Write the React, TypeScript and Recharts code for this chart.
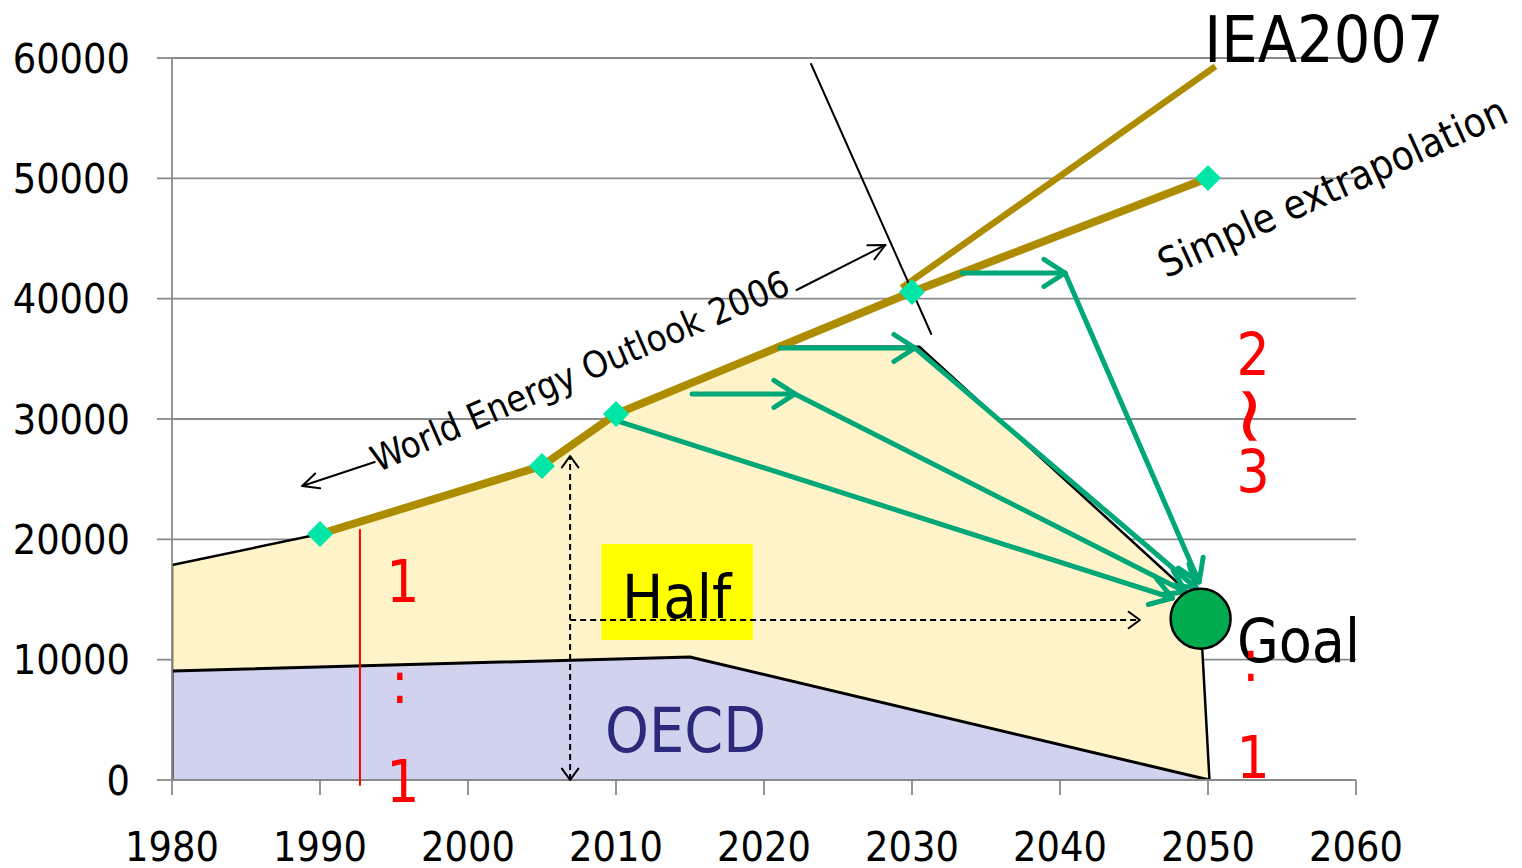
import React from 'react';
import {
  ComposedChart,
  Area,
  Line,
  XAxis,
  YAxis,
  CartesianGrid,
  ReferenceLine,
  ReferenceDot,
  ReferenceArea,
} from 'recharts';

const FONT = "'DejaVu Sans Condensed', 'DejaVu Sans', sans-serif";

// Axis ticks
const yearTicks = [1980, 1990, 2000, 2010, 2020, 2030, 2040, 2050, 2060];
const valueTicks = [0, 10000, 20000, 30000, 40000, 50000, 60000];

// World total (upper filled region)
const worldTotal = [
  { year: 1980, value: 0 },
  { year: 1980, value: 17870 },
  { year: 1990, value: 20440 },
  { year: 2005, value: 26100 },
  { year: 2010, value: 30420 },
  { year: 2021, value: 36000 },
  { year: 2030.5, value: 36000 },
  { year: 2048.3, value: 16000 },
  { year: 2049.5, value: 13400 },
  { year: 2050.1, value: 0 },
];

// OECD share (lower filled region)
const oecdShare = [
  { year: 1980, value: 0 },
  { year: 1980, value: 9060 },
  { year: 2015, value: 10220 },
  { year: 2050.1, value: 0 },
];

// World Energy Outlook 2006 trend and its simple extrapolation
const weo2006 = [
  { year: 1990, value: 20440 },
  { year: 2005, value: 26100 },
  { year: 2010, value: 30420 },
  { year: 2030, value: 40550 },
  { year: 2050, value: 50030 },
];

// IEA 2007 projection
const iea2007 = [
  { year: 2029.3, value: 40890 },
  { year: 2050.5, value: 59300 },
];

// Reduction pathways towards the 2050 goal: each list of points is drawn segment by segment
const pathways: [number, number][][] = [
  [[2010.07, 29835], [2047.6, 15125]],
  [[2015.14, 32080], [2022.09, 32080], [2048.5, 15624]],
  [[2021.08, 35900], [2030.2, 35900], [2049.2, 15956]],
  [[2033.38, 42134], [2040.34, 42134], [2049.4, 16455]],
];

const goal = { year: 2049.5, value: 13400 };

// Dashed "half" indicators
const halfVertical: [number, number][] = [[2006.9, 0], [2006.9, 26925]];
const halfHorizontal: [number, number][] = [[2006.9, 13297], [2045.4, 13297]];
const halfBox = { x1: 2009.0, x2: 2019.26, y1: 11635, y2: 19612 };

// Thin annotation lines
const divider: [number, number][] = [[2023.18, 59500], [2031.3, 37065]];
const weoArrowLeft: [number, number][] = [[1993.7, 26430], [1988.8, 24430]];
const weoArrowRight: [number, number][] = [[2022.2, 40720], [2028.2, 44460]];
const ratioLine: [number, number][] = [[1992.7, 20780], [1992.7, -415]];

type Label = {
  text: string;
  year: number;
  value: number;
  size: number;
  color: string;
  anchor?: 'start' | 'middle' | 'end';
  rotate?: number;
  baseline?: 'central' | 'auto';
};

const labels: Label[] = [
  { text: 'IEA2007', year: 2049.75, value: 59670, size: 64, color: '#000', anchor: 'start' },
  { text: 'World Energy Outlook 2006', year: 2007.9, value: 33000, size: 36.5, color: '#000', rotate: -23.4 },
  { text: 'Simple extrapolation', year: 2058.8, value: 48200, size: 40.5, color: '#000', rotate: -24.5 },
  { text: 'Half', year: 2010.4, value: 13463, size: 61, color: '#000', anchor: 'start' },
  { text: 'OECD', year: 2009.26, value: 2327, size: 62, color: '#2B2A7A', anchor: 'start' },
  { text: 'Goal', year: 2051.96, value: 9806, size: 60, color: '#000', anchor: 'start' },
  { text: '1', year: 1995.6, value: 14790, size: 58, color: '#FF0000' },
  { text: ':', year: 1995.4, value: 6400, size: 58, color: '#FF0000' },
  { text: '1', year: 1995.6, value: -1830, size: 58, color: '#FF0000' },
  { text: '2', year: 2053.04, value: 33660, size: 58, color: '#FF0000' },
  { text: '~', year: 2053.04, value: 30250, size: 88, color: '#FF0000', baseline: 'central', rotate: 90 },
  { text: '3', year: 2053.04, value: 23934, size: 58, color: '#FF0000' },
  { text: ':', year: 2052.9, value: 8230, size: 58, color: '#FF0000' },
  { text: '1', year: 2053.04, value: 170, size: 58, color: '#FF0000' },
];

const GOLD = '#AE8C00';
const MINT = '#00E6A8';
const GREEN = '#00A878';

const headPath = (x: number, y: number, ang: number, len: number, spread: number) => {
  const ax = x - len * Math.cos(ang - spread);
  const ay = y - len * Math.sin(ang - spread);
  const bx = x - len * Math.cos(ang + spread);
  const by = y - len * Math.sin(ang + spread);
  return `M${ax},${ay} L${x},${y} L${bx},${by}`;
};

type ArrowOpts = {
  color: string;
  width: number;
  start?: boolean;
  end?: boolean;
  dash?: string;
  len?: number;
  spread?: number;
};

const arrowShape = (o: ArrowOpts) => (p: any) => {
  const { x1, y1, x2, y2 } = p;
  const ang = Math.atan2(y2 - y1, x2 - x1);
  const len = o.len ?? 20;
  const spread = o.spread ?? Math.PI / 5;
  return (
    <g>
      <line
        x1={x1}
        y1={y1}
        x2={x2}
        y2={y2}
        stroke={o.color}
        strokeWidth={o.width}
        strokeDasharray={o.dash}
        strokeLinecap={o.dash ? 'butt' : 'round'}
      />
      {o.end && (
        <path
          d={headPath(x2, y2, ang, len, spread)}
          fill="none"
          stroke={o.color}
          strokeWidth={o.width}
          strokeLinecap="round"
          strokeLinejoin="round"
        />
      )}
      {o.start && (
        <path
          d={headPath(x1, y1, ang + Math.PI, len, spread)}
          fill="none"
          stroke={o.color}
          strokeWidth={o.width}
          strokeLinecap="round"
          strokeLinejoin="round"
        />
      )}
    </g>
  );
};

const Diamond = (p: any) => {
  const { cx, cy, index } = p;
  if (cx == null || cy == null) return <g key={index} />;
  const s = 13;
  return (
    <path
      key={index}
      d={`M${cx},${cy - s} L${cx + s},${cy} L${cx},${cy + s} L${cx - s},${cy} Z`}
      fill={MINT}
    />
  );
};

const textShape = (l: Label) => (p: any) => {
  const { cx, cy } = p;
  return (
    <text
      x={cx}
      y={cy}
      fill={l.color}
      fontSize={l.size}
      fontFamily={FONT}
      textAnchor={l.anchor ?? 'middle'}
      dominantBaseline={l.baseline ?? 'auto'}
      transform={l.rotate ? `rotate(${l.rotate} ${cx} ${cy})` : undefined}
    >
      {l.text}
    </text>
  );
};

const segLine = (
  key: string,
  a: [number, number],
  b: [number, number],
  o: ArrowOpts,
  z = 500,
) => (
  <ReferenceLine
    key={key}
    segment={[
      { x: a[0], y: a[1] },
      { x: b[0], y: b[1] },
    ]}
    ifOverflow="visible"
    shape={arrowShape(o)}
    zIndex={z}
  />
);

export default function App() {
  const tickStyle = { fontSize: 41, fill: '#000', fontFamily: FONT };
  return (
    <div style={{ position: 'absolute', left: 0, top: 0, width: 1522, height: 868, background: '#fff' }}>
      <ComposedChart
        width={1522}
        height={868}
        margin={{ top: 58, right: 166, bottom: 0, left: 0 }}
      >
        <CartesianGrid vertical={false} stroke="#8a8a8a" strokeWidth={1.8} />
        <XAxis
          type="number"
          dataKey="year"
          domain={[1980, 2060]}
          ticks={yearTicks}
          allowDataOverflow
          height={88}
          tickSize={15}
          tickMargin={37}
          tick={tickStyle}
          stroke="#8a8a8a"
          strokeWidth={1.8}
          interval={0}
        />
        <YAxis
          type="number"
          domain={[0, 60000]}
          ticks={valueTicks}
          allowDataOverflow
          width={172}
          tickSize={15}
          tickMargin={27}
          tick={tickStyle}
          stroke="#8a8a8a"
          strokeWidth={1.8}
          interval={0}
        />

        <Area
          data={worldTotal}
          dataKey="value"
          type="linear"
          fill="#FFF3C9"
          fillOpacity={1}
          stroke="#000"
          strokeWidth={2.5}
          isAnimationActive={false}
          dot={false}
          activeDot={false}
          zIndex={100}
        />
        <Area
          data={oecdShare}
          dataKey="value"
          type="linear"
          fill="#D0D2EE"
          fillOpacity={1}
          stroke="#000"
          strokeWidth={3}
          isAnimationActive={false}
          dot={false}
          activeDot={false}
          zIndex={110}
        />

        <ReferenceArea
          x1={halfBox.x1}
          x2={halfBox.x2}
          y1={halfBox.y1}
          y2={halfBox.y2}
          fill="#FFFF00"
          fillOpacity={1}
          stroke="none"
          ifOverflow="visible"
          zIndex={300}
        />

        <Line
          data={weo2006}
          dataKey="value"
          type="linear"
          stroke={GOLD}
          strokeWidth={8}
          dot={<Diamond />}
          activeDot={false}
          isAnimationActive={false}
          zIndex={400}
        />
        <Line
          data={iea2007}
          dataKey="value"
          type="linear"
          stroke={GOLD}
          strokeWidth={6.5}
          dot={false}
          activeDot={false}
          isAnimationActive={false}
          zIndex={410}
        />

        {segLine('hv', halfVertical[0], halfVertical[1], { color: '#000', width: 2, start: true, end: true, dash: '6 4', len: 14, spread: Math.PI / 5 })}
        {segLine('hh', halfHorizontal[0], halfHorizontal[1], { color: '#000', width: 2, end: true, dash: '6 4', len: 14, spread: Math.PI / 5 })}
        {segLine('div', divider[0], divider[1], { color: '#000', width: 2 })}
        {segLine('wl', weoArrowLeft[0], weoArrowLeft[1], { color: '#000', width: 2, end: true, len: 18, spread: Math.PI / 7 })}
        {segLine('wr', weoArrowRight[0], weoArrowRight[1], { color: '#000', width: 2, end: true, len: 18, spread: Math.PI / 7 })}
        {segLine('ratio', ratioLine[0], ratioLine[1], { color: '#FF0000', width: 2 })}

        {pathways.flatMap((pts, i) =>
          pts.slice(1).map((pt, j) =>
            segLine(`p${i}-${j}`, pts[j], pt, { color: GREEN, width: 5, end: true, len: 25, spread: Math.PI / 5.5 }, 520),
          ),
        )}

        <ReferenceDot
          x={goal.year}
          y={goal.value}
          r={30}
          fill="#00AA4E"
          stroke="#000"
          strokeWidth={2.5}
          ifOverflow="visible"
          zIndex={600}
        />

        {labels.map((l, i) => (
          <ReferenceDot
            key={`l${i}`}
            x={l.year}
            y={l.value}
            r={0}
            ifOverflow="visible"
            shape={textShape(l)}
            zIndex={700}
          />
        ))}
      </ComposedChart>
    </div>
  );
}
